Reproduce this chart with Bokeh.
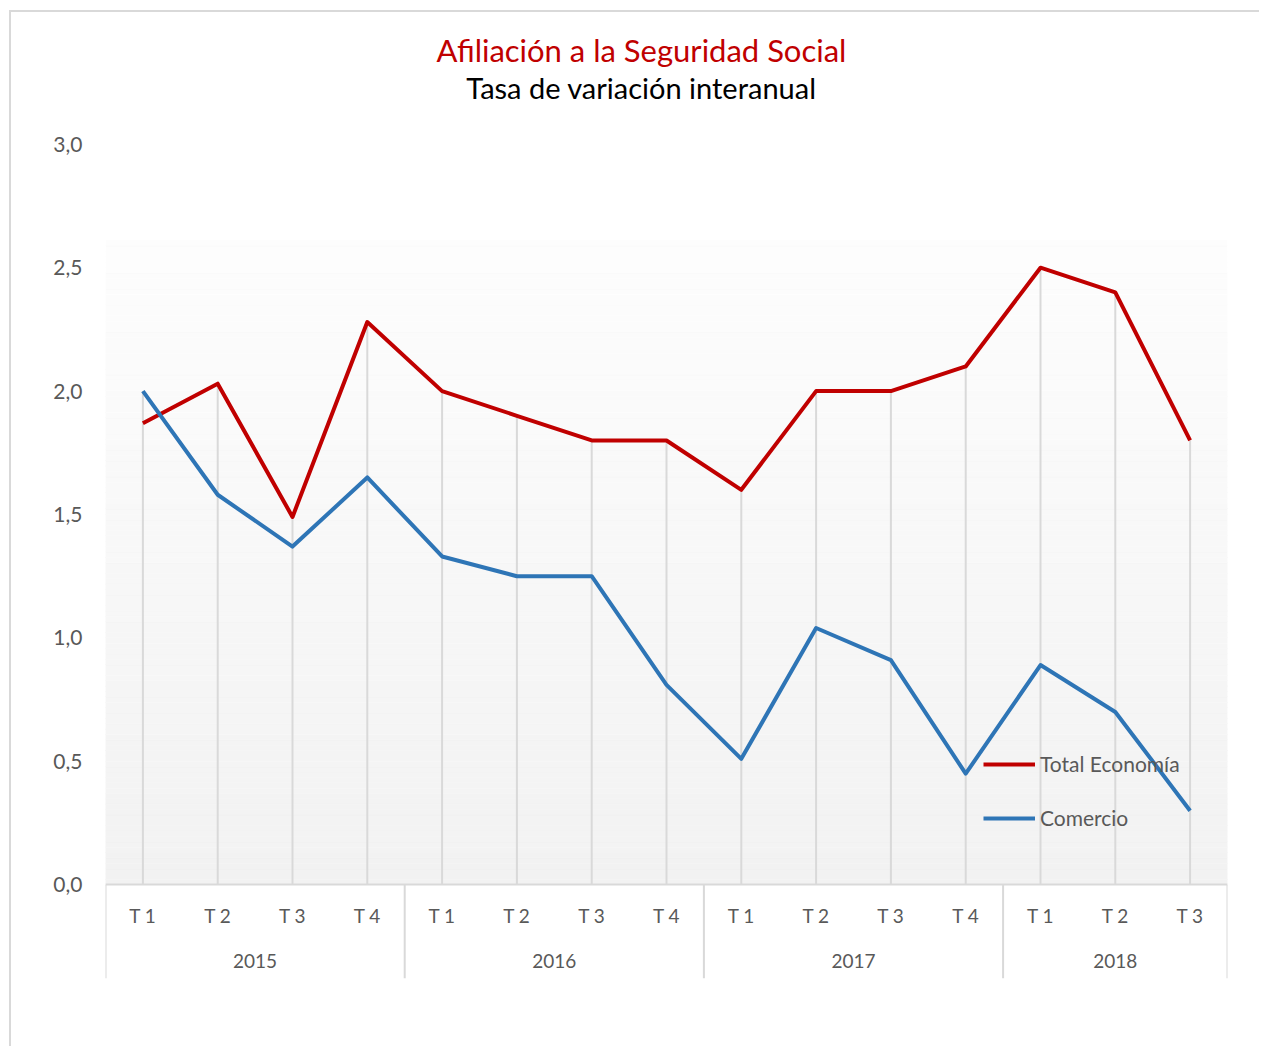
import numpy as np
from bokeh.plotting import figure
from bokeh.models import (FactorRange, Range1d, CategoricalAxis, LinearAxis, FixedTicker,
                          CustomJSTickFormatter, Legend, LegendItem, Label, ColumnDataSource)
from bokeh.core.properties import value
from bokeh.embed import file_html
from bokeh.resources import INLINE

# ---------------- data ----------------
years = ["2015", "2016", "2017", "2018"]
quarters = [["T 1", "T 2", "T 3", "T 4"],
            ["T 1", "T 2", "T 3", "T 4"],
            ["T 1", "T 2", "T 3", "T 4"],
            ["T 1", "T 2", "T 3"]]
total_economia = [1.87, 2.03, 1.49, 2.28, 2.00, 1.90, 1.80, 1.80, 1.60, 2.00, 2.00, 2.10, 2.50, 2.40, 1.80]
comercio = [2.00, 1.58, 1.37, 1.65, 1.33, 1.25, 1.25, 0.81, 0.51, 1.04, 0.91, 0.45, 0.89, 0.70, 0.30]
series_names = ["Total Economía", "Comercio"]
y_ticks = [0.0, 0.5, 1.0, 1.5, 2.0, 2.5, 3.0]
title_text = "Afiliación a la Seguridad Social"
subtitle_text = "Tasa de variación interanual"

# ---------------- style ----------------
RED = "#c00000"
BLUE = "#2e75b6"
GREY_TXT = "#595959"
GRID = "#d9d9d9"
FONT = "Lato"
Y_MIN = -0.38       # room below the axis for the category labels
Y_MAX_VIEW = 3.534  # room above the value axis for the titles
BG_TOP = 2.61       # top of the gradient panel
YEAR_LABEL_Y = -0.31

factors = [(y, q) for y, qs in zip(years, quarters) for q in qs]
n = len(factors)

p = figure(x_range=FactorRange(*factors, factor_padding=0, group_padding=0,
                                subgroup_padding=0, range_padding=0),
           y_range=Range1d(Y_MIN, Y_MAX_VIEW),
           width=1250, height=1036,
           min_border_left=94, min_border_right=34, min_border_top=0, min_border_bottom=70,
           output_backend="svg", toolbar_location=None,
           x_axis_location=None, y_axis_location=None)
p.styles = {"border-left": "2px solid #d9d9d9", "border-top": "2px solid #d9d9d9",
            "margin-left": "9px", "margin-top": "10px"}
p.outline_line_color = None
p.background_fill_color = "white"
p.border_fill_color = "white"
p.grid.visible = False

# gradient panel (white at top to light grey at bottom)
nb = 120
edges = np.linspace(0, BG_TOP, nb + 1)
t = np.linspace(0, 1, nb)
cols = []
for f in t:
    v = int(round(242 + (253 - 242) * f))
    cols.append("#%02x%02x%02x" % (v, v, v))
p.quad(left=0, right=n, bottom=edges[:-1], top=edges[1:], fill_color=cols, line_color=cols, line_width=0.5)

# drop lines from highest series value down to the axis
tops = [max(a, b) for a, b in zip(total_economia, comercio)]
p.segment(x0=factors, y0=[0] * n, x1=factors, y1=tops, line_color=GRID, line_width=2)

# year separators below the axis
bounds = [0]
for qs in quarters:
    bounds.append(bounds[-1] + len(qs))
p.segment(x0=bounds, y0=[0] * len(bounds), x1=bounds, y1=[Y_MIN] * len(bounds),
          line_color=GRID, line_width=2)

# year labels
p.text(x=years, y=[YEAR_LABEL_Y] * len(years), text=years, text_align="center",
       text_baseline="middle", text_font=value(FONT), text_font_size="19px", text_color=GREY_TXT)

src = ColumnDataSource(dict(x=factors, tot=total_economia, com=comercio))
r1 = p.line(x="x", y="tot", source=src, line_color=RED, line_width=4, line_join="round")
r2 = p.line(x="x", y="com", source=src, line_color=BLUE, line_width=4, line_join="round")

# axes
xaxis = CategoricalAxis(fixed_location=0)
xaxis.axis_line_color = GRID
xaxis.axis_line_width = 2
xaxis.major_tick_line_color = None
xaxis.minor_tick_line_color = None
xaxis.major_tick_out = 0
xaxis.major_tick_in = 0
xaxis.separator_line_color = None
xaxis.group_text_color = None
xaxis.major_label_standoff = 19
xaxis.major_label_text_font = FONT
xaxis.major_label_text_font_size = "19px"
xaxis.major_label_text_color = GREY_TXT
p.add_layout(xaxis, "below")

yaxis = LinearAxis(ticker=FixedTicker(ticks=y_ticks),
                   formatter=CustomJSTickFormatter(code="return tick.toFixed(1).replace('.', ',');"))
yaxis.axis_line_color = None
yaxis.major_tick_line_color = None
yaxis.minor_tick_line_color = None
yaxis.major_tick_out = 0
yaxis.major_tick_in = 0
yaxis.major_label_standoff = 23
yaxis.major_label_text_font = FONT
yaxis.major_label_text_font_size = "21px"
yaxis.major_label_text_color = GREY_TXT
p.add_layout(yaxis, "left")

# legend
legend = Legend(items=[LegendItem(label=series_names[0], renderers=[r1]),
                       LegendItem(label=series_names[1], renderers=[r2])],
                location=(878, 148), orientation="vertical",
                glyph_width=52, glyph_height=20, label_height=20, label_standoff=5,
                spacing=29, padding=0, margin=0,
                label_text_font=FONT, label_text_font_size="21px", label_text_color=GREY_TXT,
                border_line_color=None, background_fill_alpha=0)
p.add_layout(legend)

# titles (screen units measured from the frame's bottom-left corner)
p.add_layout(Label(x=536, y=929, x_units="screen", y_units="screen", text=title_text,
                   text_align="center", text_baseline="middle", text_font=FONT,
                   text_font_size="31px", text_color=RED))
p.add_layout(Label(x=536, y=891, x_units="screen", y_units="screen", text=subtitle_text,
                   text_align="center", text_baseline="middle", text_font=FONT,
                   text_font_size="29px", text_color="black"))

open("out.html", "w").write(file_html(p, INLINE))
